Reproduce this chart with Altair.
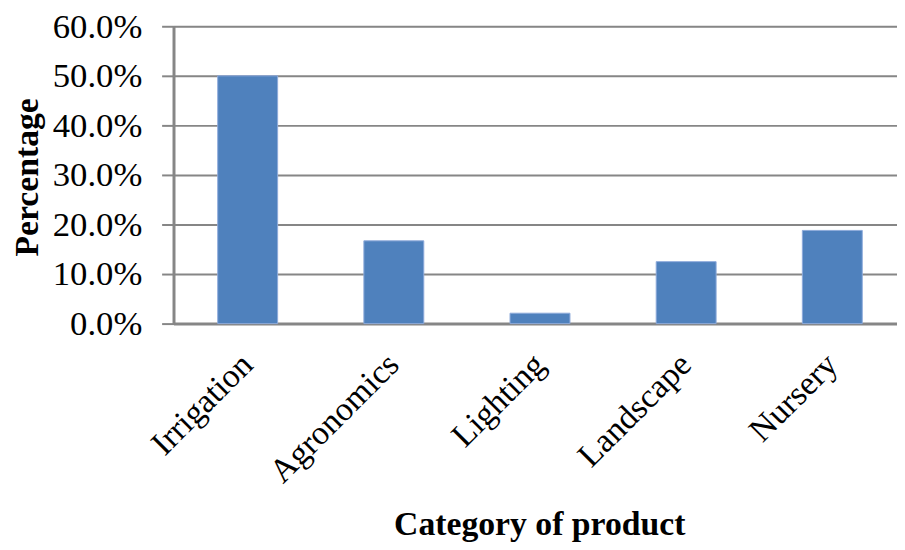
import altair as alt
import pandas as pd

categories = ["Irrigation", "Agronomics", "Lighting", "Landscape", "Nursery"]
percentages = [0.500, 0.167, 0.021, 0.125, 0.188]

df = pd.DataFrame({"Category": categories, "Percentage": percentages})

FONT = "Liberation Serif"

chart = alt.Chart(df).mark_bar(
    color="#4F81BD", stroke="#8EAADB", strokeWidth=1
).encode(
    x=alt.X(
        "Category:N",
        sort=categories,
        scale=alt.Scale(paddingInner=0.59, paddingOuter=0.27, align=0.56),
        axis=alt.Axis(
            title="Category of product",
            titleFont=FONT, titleFontSize=34, titleFontWeight="bold",
            titleColor="black",
            titleX=369, titleY=203, titleBaseline="middle", titleAnchor="middle",
            titleAlign="center",
            labelFont=FONT, labelFontSize=34, labelColor="black",
            labelAngle=-45, labelAlign="right", labelBaseline="middle",
            labelPadding=36,
            ticks=False, domainColor="#868686", domainWidth=3,
            grid=False,
        ),
    ),
    y=alt.Y(
        "Percentage:Q",
        scale=alt.Scale(domain=[0, 0.6], nice=False),
        axis=alt.Axis(
            title="Percentage",
            titleFont=FONT, titleFontSize=34, titleFontWeight="bold",
            titleColor="black",
            titleX=-147, titleY=152, titleBaseline="middle", titleAlign="center",
            titleAngle=270,
            format=".1%", values=[0, 0.1, 0.2, 0.3, 0.4, 0.5, 0.6],
            labelFont=FONT, labelFontSize=35, labelColor="black",
            labelPadding=20, labelFlush=False,
            tickSize=12, tickColor="#868686", tickWidth=2,
            domainColor="#868686", domainWidth=3,
            grid=True, gridColor="#868686", gridWidth=2,
        ),
    ),
).properties(
    width=730,
    height=300,
    autosize=alt.AutoSizeParams(type="none"),
    padding={"left": 167, "top": 16, "right": 0, "bottom": 226},
).configure_view(stroke=None).configure(background="white")

chart.save("out.html", embed_options={"renderer": "svg", "actions": False})
